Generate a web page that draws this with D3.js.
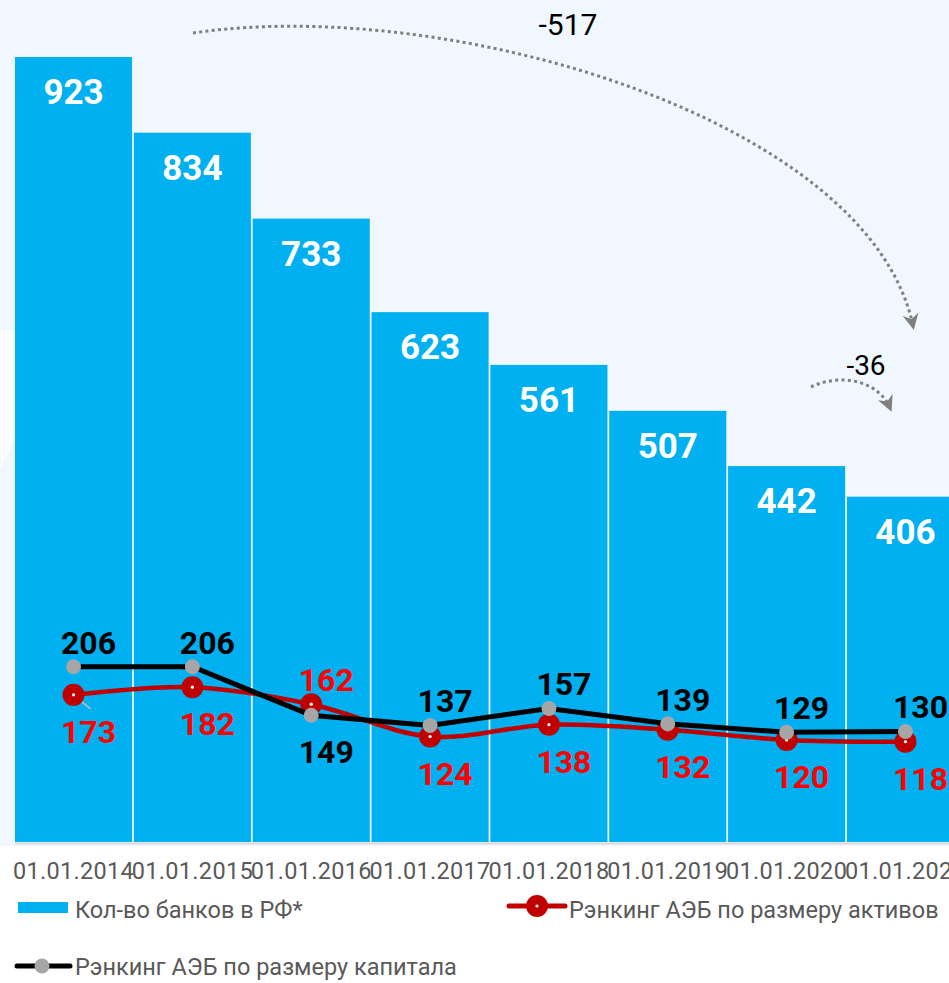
<!DOCTYPE html>
<html><head><meta charset="utf-8">
<script src="https://cdn.jsdelivr.net/npm/d3@7/dist/d3.min.js"></script>
<style>
html,body{margin:0;padding:0;background:#fff;overflow:hidden}
svg{display:block;font-family:Roboto,"DejaVu Sans",sans-serif}
</style></head><body>
<svg id="c" width="949" height="983"></svg>
<script>
const categories = ["01.01.2014","01.01.2015","01.01.2016","01.01.2017","01.01.2018","01.01.2019","01.01.2020","01.01.2021"];
const banks = [923,834,733,623,561,507,442,406];
const rankAssets = [173,182,162,124,138,132,120,118];
const rankCapital = [206,206,149,137,157,139,129,130];
// label side: 1 = above point, -1 = below point
const assetsLabelSide = [-1,-1,1,-1,-1,-1,-1,-1];
const capitalLabelSide = [1,1,-1,1,1,1,1,1];
const arrowLabels = ["-517","-36"];
const legendLabels = ["Кол-во банков в РФ*","Рэнкинг АЭБ по размеру активов","Рэнкинг АЭБ по размеру капитала"];

const svg = d3.select("#c");
const W = 949, H = 983;
const baseY = 842;

// background
svg.append("rect").attr("x",0).attr("y",0).attr("width",W).attr("height",846).attr("fill","#f0f7fe");
svg.append("path").attr("d","M0,330 L0,470 L15,440 L15,330 Z").attr("fill","#fbfdff");
svg.append("rect").attr("x",0).attr("y",846).attr("width",W).attr("height",H-846).attr("fill","#ffffff");

const x = d3.scaleBand().domain(categories).range([15, 964]).paddingInner(0.015).paddingOuter(0);
const y = d3.scaleLinear().domain([0,1000]).range([baseY, baseY-850.5]);
const cx = d => x(d) + x.bandwidth()/2;

// bars
svg.append("g").selectAll("rect").data(banks).join("rect")
  .attr("x",(d,i)=>x(categories[i])).attr("y",d=>y(d))
  .attr("width",x.bandwidth()).attr("height",d=>baseY-y(d))
  .attr("fill","#00b0f0");
// axis line
svg.append("line").attr("x1",15).attr("x2",W).attr("y1",baseY+1.5).attr("y2",baseY+1.5)
  .attr("stroke","#d9d9d9").attr("stroke-width",2);

// bar labels
svg.append("g").selectAll("text").data(banks).join("text")
  .attr("x",(d,i)=>cx(categories[i])).attr("y",d=>y(d)+47)
  .attr("text-anchor","middle").attr("fill","#fff")
  .attr("font-size",35).attr("font-weight",700).text(d=>d);

// x axis
const ax = svg.append("g").attr("transform",`translate(0,${baseY+4})`)
  .call(d3.axisBottom(x).tickSize(0).tickPadding(0));
ax.select(".domain").remove();
ax.selectAll("text").attr("font-size",23.5).attr("letter-spacing",0.3).attr("fill","#595959")
  .attr("font-family","Roboto,sans-serif").attr("dy",0).attr("y",33);

// red line (assets)
const lineSmooth = d3.line().x((d,i)=>cx(categories[i])).y(d=>y(d)).curve(d3.curveCatmullRom.alpha(0.5));
const lineStraight = d3.line().x((d,i)=>cx(categories[i])).y(d=>y(d));
svg.append("path").attr("d",lineSmooth(rankAssets)).attr("fill","none")
  .attr("stroke","#c00000").attr("stroke-width",4.5);
// leader line on first label
svg.append("line").attr("x1",cx(categories[0])).attr("y1",y(rankAssets[0]))
  .attr("x2",cx(categories[0])+17).attr("y2",y(rankAssets[0])+14)
  .attr("stroke","#bfbfbf").attr("stroke-width",1.5);
const rg = svg.append("g");
rg.selectAll("circle.o").data(rankAssets).join("circle").attr("class","o")
  .attr("cx",(d,i)=>cx(categories[i])).attr("cy",d=>y(d)).attr("r",11).attr("fill","#c00000");
rg.selectAll("circle.i").data(rankAssets).join("circle").attr("class","i")
  .attr("cx",(d,i)=>cx(categories[i])).attr("cy",d=>y(d)).attr("r",1.6).attr("fill","#fff");

// black line (capital)
svg.append("path").attr("d",lineStraight(rankCapital)).attr("fill","none")
  .attr("stroke","#000").attr("stroke-width",5);
svg.append("g").selectAll("circle").data(rankCapital).join("circle")
  .attr("cx",(d,i)=>cx(categories[i])).attr("cy",d=>y(d)).attr("r",7.5).attr("fill","#a6a6a6");

// line labels
function labels(vals, sides, color){
  svg.append("g").selectAll("text").data(vals).join("text")
    .attr("x",(d,i)=>cx(categories[i])+15)
    .attr("y",(d,i)=>sides[i]>0 ? y(d)-13 : y(d)+48)
    .attr("text-anchor","middle").attr("fill",color)
    .attr("font-size",32).attr("font-weight",700).text(d=>d);
}
labels(rankCapital, capitalLabelSide, "#000");
labels(rankAssets, assetsLabelSide, "#ff0000");

// arrows
const defs = svg.append("defs");
defs.append("marker").attr("id","ah").attr("viewBox","0 0 16 16").attr("refX",12).attr("refY",8)
  .attr("markerWidth",16).attr("markerHeight",16).attr("markerUnits","userSpaceOnUse").attr("orient","auto")
  .append("path").attr("d","M0,0 L16,8 L0,16 L5,8 Z").attr("fill","#7f7f7f");
svg.append("path").attr("d","M193,33 C450,-5 870,120 913,326").attr("fill","none")
  .attr("stroke","#7f7f7f").attr("stroke-width",3).attr("stroke-dasharray","3,3.3").attr("marker-end","url(#ah)");
svg.append("path").attr("d","M811,387 C840,373 878,380 890,408").attr("fill","none")
  .attr("stroke","#7f7f7f").attr("stroke-width",3).attr("stroke-dasharray","3,3.3").attr("marker-end","url(#ah)");
svg.append("text").attr("x",568).attr("y",35).attr("text-anchor","middle").attr("font-size",30).attr("fill","#000").text(arrowLabels[0]);
svg.append("text").attr("x",866).attr("y",375).attr("text-anchor","middle").attr("font-size",28).attr("fill","#000").text(arrowLabels[1]);

// legend
const lg = svg.append("g").attr("font-size",23.5).attr("fill","#595959");
lg.append("rect").attr("x",18).attr("y",902).attr("width",50).attr("height",11).attr("fill","#00b0f0");
lg.append("text").attr("x",75).attr("y",918).text(legendLabels[0]);
lg.append("line").attr("x1",509).attr("x2",565).attr("y1",906).attr("y2",906).attr("stroke","#c00000").attr("stroke-width",5).attr("stroke-linecap","round");
lg.append("circle").attr("cx",537).attr("cy",906).attr("r",11).attr("fill","#c00000");
lg.append("circle").attr("cx",537).attr("cy",906).attr("r",1.6).attr("fill","#fff");
lg.append("text").attr("x",569).attr("y",918).text(legendLabels[1]);
lg.append("line").attr("x1",17).attr("x2",70).attr("y1",966).attr("y2",966).attr("stroke","#000").attr("stroke-width",5).attr("stroke-linecap","round");
lg.append("circle").attr("cx",42).attr("cy",966).attr("r",7.5).attr("fill","#a6a6a6");
lg.append("text").attr("x",75).attr("y",975).text(legendLabels[2]);
</script>
</body></html>
